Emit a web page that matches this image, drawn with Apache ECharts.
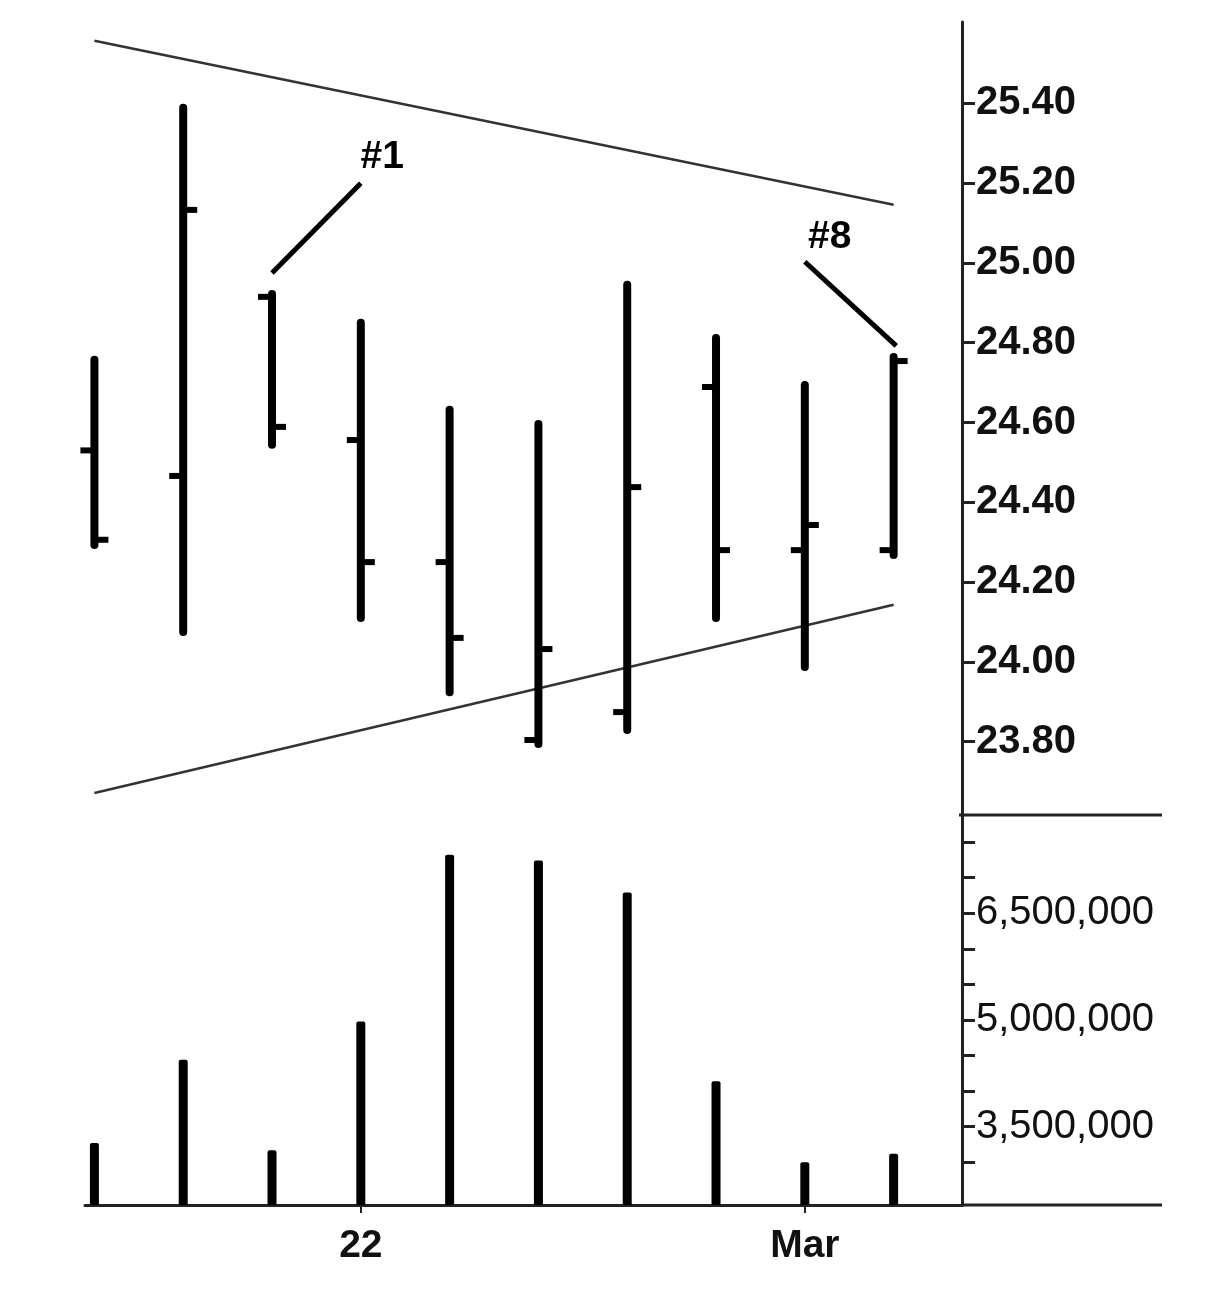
<!DOCTYPE html>
<html>
<head>
<meta charset="utf-8">
<script src="https://cdn.jsdelivr.net/npm/echarts@6/dist/echarts.min.js"></script>
<style>
html,body{margin:0;padding:0;background:#fff;}
#chart{width:1214px;height:1292px;}
</style>
</head>
<body>
<div id="chart"></div>
<script>
// ---- data ----
const dates   = ['2010-02-17','2010-02-18','2010-02-19','2010-02-22','2010-02-23','2010-02-24','2010-02-25','2010-02-26','2010-03-01','2010-03-02'];
const opens   = [24.530, 24.466, 24.915, 24.556, 24.250, 23.804, 23.874, 24.689, 24.280, 24.280];
const highs   = [24.757, 25.389, 24.922, 24.850, 24.632, 24.596, 24.945, 24.812, 24.694, 24.764];
const lows    = [24.293, 24.075, 24.544, 24.110, 23.924, 23.794, 23.829, 24.110, 23.987, 24.268];
const closes  = [24.306, 25.133, 24.589, 24.250, 24.060, 24.032, 24.438, 24.280, 24.343, 24.754];
const volumes = [3270000, 4440000, 3170000, 4980000, 7320000, 7240000, 6790000, 4140000, 3000000, 3120000];

const priceTicks  = [23.80, 24.00, 24.20, 24.40, 24.60, 24.80, 25.00, 25.20, 25.40];
const volumeTicks = [3000000, 3500000, 4000000, 4500000, 5000000, 5500000, 6000000, 6500000, 7000000, 7500000];
const volumeLabels = [3500000, 5000000, 6500000];
const xTickIndex = [3, 8];
const xTickText  = ['22', 'Mar'];

const upperTrend = [[0, 25.557], [9, 25.146]];
const lowerTrend = [[0, 23.671], [9, 24.143]];
const noteText  = ['#1', '#8'];
const noteAt    = [[3.24, 25.266], [8.28, 25.064]];
const noteLines = [[[3.0, 25.200], [2.0, 24.975]], [[8.0, 25.003], [9.03, 24.792]]];

// ---- layout ----
const FONT = '"Liberation Sans", Arial, sans-serif';
const gridLeft = 85, axisX = 962, outerRight = 1162;
const priceTop = 22, priceBottom = 815, volBottom = 1205;

const ohlcData = dates.map((d, i) => [i, opens[i], highs[i], lows[i], closes[i]]);
const volData = dates.map((d, i) => [i, volumes[i]]);
const noteData = noteText.map((t, i) => [noteAt[i][0], noteAt[i][1], i]);

function fmtComma(v){ return String(Math.round(v)).replace(/\B(?=(\d{3})+(?!\d))/g, ','); }

const chart = echarts.init(document.getElementById('chart'), null, {renderer: 'canvas'});

const xCommon = {type: 'value', min: -0.106, max: 9.77};

const series = [
  {
    type: 'line', xAxisIndex: 0, yAxisIndex: 0, data: upperTrend, symbol: 'none',
    lineStyle: {color: '#333', width: 2.5}, silent: true, z: 1
  },
  {
    type: 'line', xAxisIndex: 0, yAxisIndex: 0, data: lowerTrend, symbol: 'none',
    lineStyle: {color: '#333', width: 2.5}, silent: true, z: 1
  },
  {
    type: 'custom', xAxisIndex: 0, yAxisIndex: 0, data: ohlcData, z: 3, clip: false,
    renderItem: function (params, api) {
      const x = api.value(0);
      const pO = api.coord([x, api.value(1)]);
      const pH = api.coord([x, api.value(2)]);
      const pL = api.coord([x, api.value(3)]);
      const pC = api.coord([x, api.value(4)]);
      const st = {stroke: '#000', lineWidth: 8, lineCap: 'round'};
      const tk = {stroke: '#000', lineWidth: 6, lineCap: 'butt'};
      return {
        type: 'group',
        children: [
          {type: 'line', shape: {x1: pH[0], y1: pH[1], x2: pL[0], y2: pL[1]}, style: st},
          {type: 'line', shape: {x1: pO[0] - 14, y1: pO[1], x2: pO[0], y2: pO[1]}, style: tk},
          {type: 'line', shape: {x1: pC[0], y1: pC[1], x2: pC[0] + 14, y2: pC[1]}, style: tk}
        ]
      };
    }
  },
  {
    type: 'custom', xAxisIndex: 0, yAxisIndex: 0, data: noteData, z: 4, clip: false,
    renderItem: function (params, api) {
      const p = api.coord([api.value(0), api.value(1)]);
      return {
        type: 'text', x: p[0], y: p[1],
        style: {text: noteText[api.value(2)], fill: '#000', font: 'bold 39px ' + FONT,
          align: 'center', verticalAlign: 'middle'}
      };
    }
  },
  {
    type: 'bar', xAxisIndex: 1, yAxisIndex: 1, data: volData, barWidth: 9,
    itemStyle: {color: '#000', borderRadius: [2, 2, 0, 0]}, silent: true
  }
];

noteLines.forEach(ln => {
  series.push({
    type: 'line', xAxisIndex: 0, yAxisIndex: 0, data: ln, symbol: 'none',
    lineStyle: {color: '#000', width: 5}, silent: true, z: 2
  });
});

chart.setOption({
  backgroundColor: '#fff',
  animation: false,
  grid: [
    {left: gridLeft, width: axisX - gridLeft, top: priceTop, height: priceBottom - priceTop},
    {left: gridLeft, width: axisX - gridLeft, top: priceBottom, height: volBottom - priceBottom}
  ],
  xAxis: [
    Object.assign({gridIndex: 0, show: false}, xCommon),
    Object.assign({
      gridIndex: 1,
      axisLine: {show: true, onZero: false, lineStyle: {color: '#222', width: 3}},
      axisTick: {show: true, customValues: xTickIndex, length: 8, lineStyle: {color: '#222', width: 2}},
      axisLabel: {show: true, customValues: xTickIndex, margin: 22,
        formatter: v => xTickText[xTickIndex.indexOf(Math.round(v))] || '',
        color: '#111', fontFamily: FONT, fontWeight: 'bold', fontSize: 39},
      splitLine: {show: false}
    }, xCommon)
  ],
  yAxis: [
    {
      type: 'value', gridIndex: 0, position: 'right',
      min: 23.616, max: 25.604,
      axisLine: {show: true, onZero: false, lineStyle: {color: '#222', width: 3}},
      axisTick: {show: true, customValues: priceTicks, length: 13, lineStyle: {color: '#222', width: 3}},
      axisLabel: {show: true, customValues: priceTicks, margin: 14,
        formatter: v => v.toFixed(2),
        color: '#111', fontFamily: FONT, fontWeight: 'bold', fontSize: 40},
      splitLine: {show: false}
    },
    {
      type: 'value', gridIndex: 1, position: 'right',
      min: 2400000, max: 7880000,
      axisLine: {show: true, onZero: false, lineStyle: {color: '#222', width: 3}},
      axisTick: {show: true, customValues: volumeTicks, length: 13, lineStyle: {color: '#222', width: 3}},
      axisLabel: {show: true, customValues: volumeLabels, margin: 14,
        formatter: v => fmtComma(v),
        color: '#111', fontFamily: FONT, fontWeight: 'normal', fontSize: 40},
      splitLine: {show: false}
    }
  ],
  graphic: [
    {type: 'line', shape: {x1: axisX - 3, y1: priceBottom, x2: outerRight, y2: priceBottom},
      style: {stroke: '#222', lineWidth: 3}, silent: true},
    {type: 'line', shape: {x1: axisX, y1: volBottom, x2: outerRight, y2: volBottom},
      style: {stroke: '#222', lineWidth: 3}, silent: true}
  ],
  series: series
});
</script>
</body>
</html>
